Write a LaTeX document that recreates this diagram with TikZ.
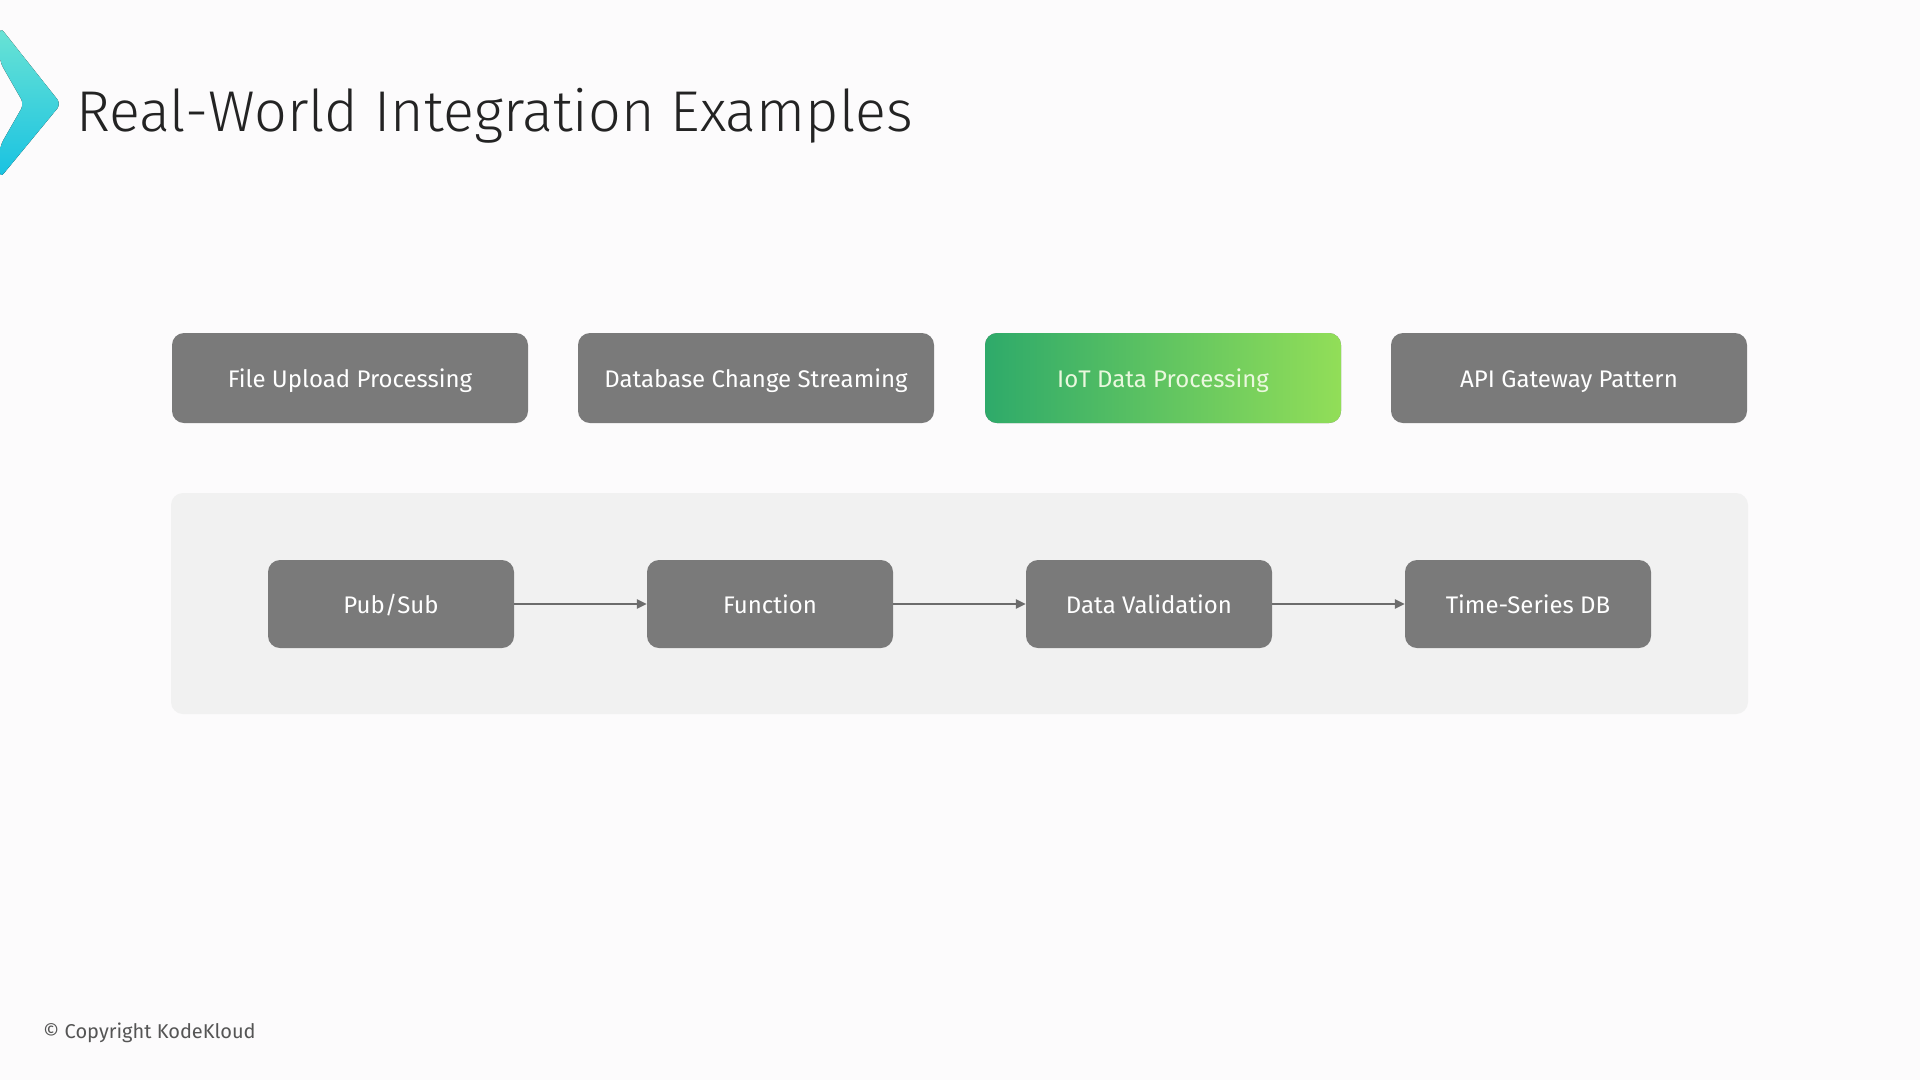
\documentclass[tikz,border=0pt]{standalone}
\usepackage{fontspec}
\setmainfont{Fira Sans}
\newfontfamily\titlefont{Fira Sans Light}
\usetikzlibrary{arrows.meta}
\definecolor{bgpage}{HTML}{FCFBFC}
\definecolor{panelgray}{HTML}{F1F1F1}
\definecolor{boxgray}{HTML}{7A7A7A}
\definecolor{arrowgray}{HTML}{6C6C6C}
\definecolor{iotdark}{HTML}{2EAA6A}
\definecolor{iotlight}{HTML}{92DE58}
\definecolor{iottext}{HTML}{EAF8DE}
\definecolor{logotop}{HTML}{6AE3D4}
\definecolor{logobot}{HTML}{18C2E2}
\definecolor{titleink}{HTML}{232323}
\definecolor{noteink}{HTML}{555555}

\begin{document}
\begin{tikzpicture}[
    x=1pt,y=-1pt,
    card/.style={rectangle,rounded corners=12pt,fill=boxgray,text=white,minimum width=356pt,minimum height=90pt,inner sep=0pt,text height=18pt,text depth=0pt,font=\fontsize{24}{28}\selectfont},
    hot/.style={card,left color=iotdark,right color=iotlight,text=iottext},
    stage/.style={card,minimum width=246pt,minimum height=88pt},
    flow/.style={-{Triangle[length=10pt,width=9pt]},draw=arrowgray,line width=2.8pt}
]
    \fill[bgpage] (0,0) rectangle (1920,1080);
    \useasboundingbox (0,0) rectangle (1920,1080);

    \fill[top color=logotop,bottom color=logobot,rounded corners=6pt]
        (0,27) -- (61,104) -- (0,178) -- (0,146) -- (24,104) -- (0,62) -- cycle;
    \node[anchor=base west,inner sep=0pt,text=titleink,font=\titlefont\fontsize{57.5}{68}\selectfont] (title) at (76,131) {Real-World Integration Examples};

    \node[card] (upload) at (350,378) {File Upload Processing};
    \node[card] (dbstream) at (756,378) {Database Change Streaming};
    \node[hot] (iot) at (1163,378) {IoT Data Processing};
    \node[card] (gateway) at (1569,378) {API Gateway Pattern};

    \fill[panelgray,rounded corners=12pt] (171,493) rectangle (1748,714);

    \node[stage] (pubsub) at (391,604) {Pub/Sub};
    \node[stage] (func) at (770,604) {Function};
    \node[stage] (valid) at (1149,604) {Data Validation};
    \node[stage] (tsdb) at (1528,604) {Time-Series DB};
    \draw[flow] (pubsub) -- (func);
    \draw[flow] (func) -- (valid);
    \draw[flow] (valid) -- (tsdb);

    \node[anchor=base west,inner sep=0pt,text=noteink,font=\fontsize{20}{24}\selectfont] (note) at (43,1038) {© Copyright KodeKloud};
\end{tikzpicture}
\end{document}
